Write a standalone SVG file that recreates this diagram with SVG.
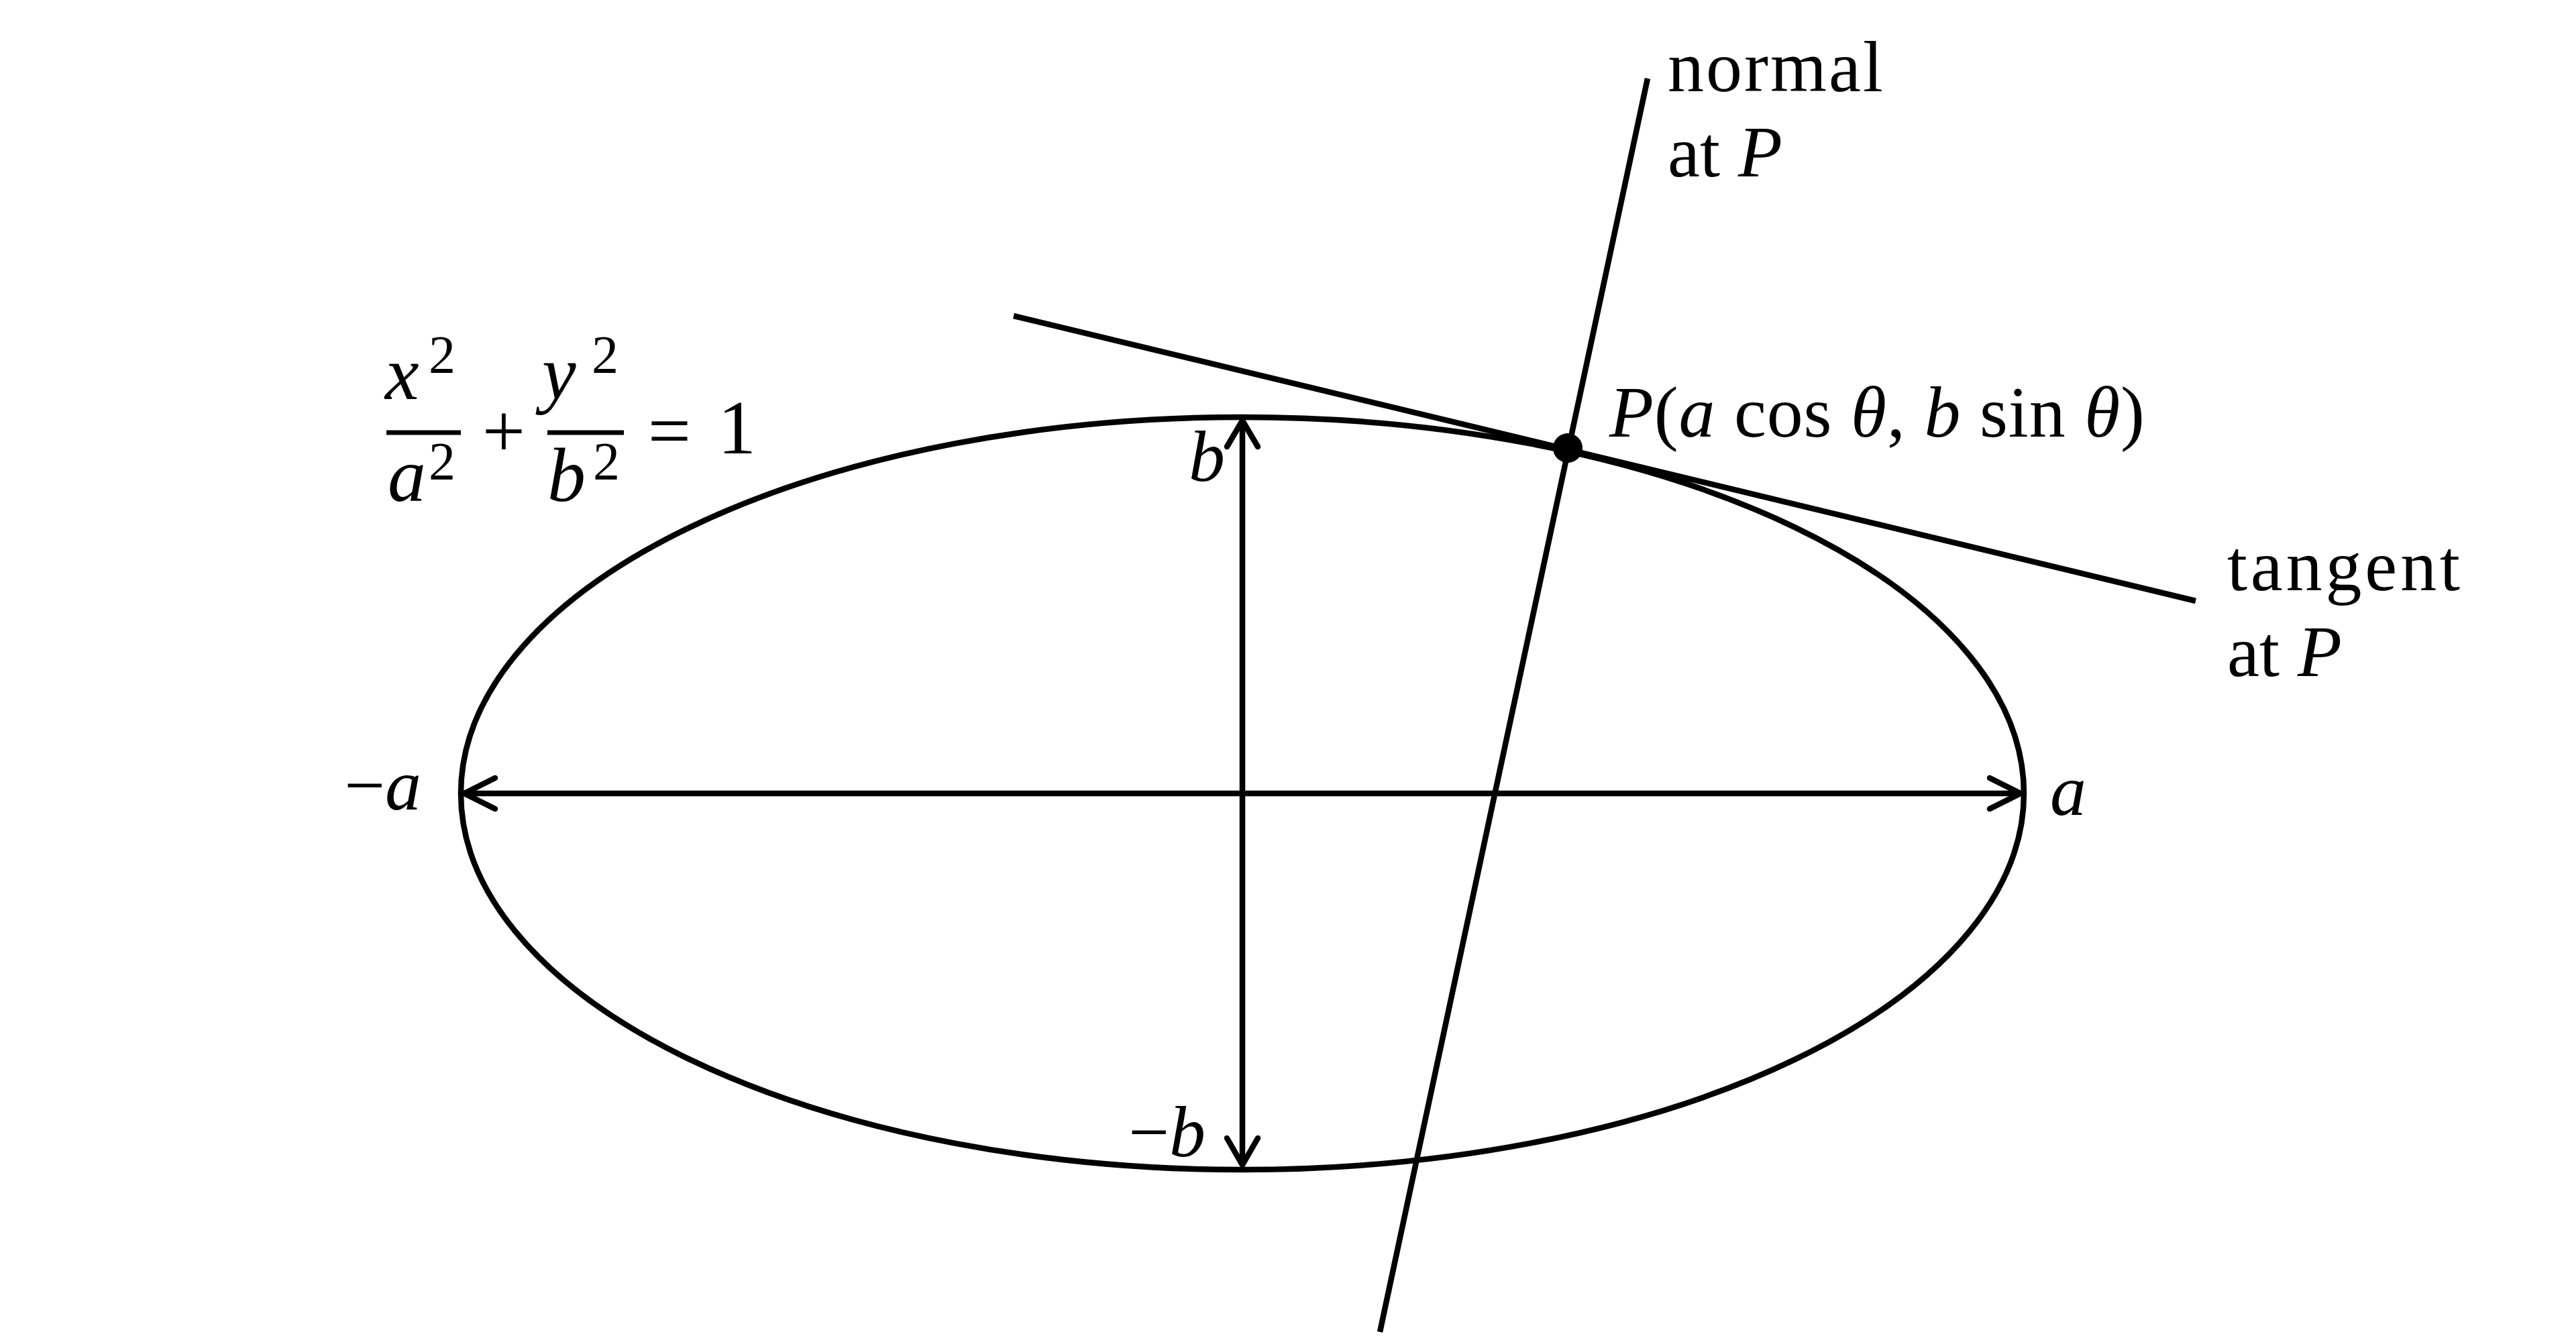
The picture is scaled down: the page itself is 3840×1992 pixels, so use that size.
<svg xmlns="http://www.w3.org/2000/svg" width="3840" height="1992" viewBox="0 0 3840 1992">
<style>
.ln{stroke:#000;stroke-width:8.5;fill:none;stroke-linecap:butt}
.ar{stroke:#000;stroke-width:8.5;fill:none;stroke-linecap:round;stroke-linejoin:round}
.t{font-family:"Liberation Serif","DejaVu Serif",serif;font-size:108px;fill:#000}
.i{font-style:italic}
.f{font-size:114px}
.s{font-size:80px}
</style>
<rect width="3840" height="1992" fill="#fff"/>
<g id="ellipse">
<ellipse cx="1852" cy="1183" rx="1165" ry="561" class="ln"/>
</g>
<g id="connectors">
<line id="major-axis" x1="692" y1="1183" x2="3012" y2="1183" class="ln"/>
<polyline points="738,1160 692,1183 738,1206" class="ar"/>
<polyline points="2966,1160 3012,1183 2966,1206" class="ar"/>
<line id="minor-axis" x1="1852" y1="627" x2="1852" y2="1737" class="ln"/>
<polyline points="1829,666 1852,627 1875,666" class="ar"/>
<polyline points="1829,1697 1852,1737 1875,1697" class="ar"/>
<line id="tangent" x1="1511" y1="471" x2="3273" y2="896" class="ln"/>
<line id="normal" x1="2456" y1="117" x2="2057" y2="1986" class="ln"/>
</g>
<g id="point-P">
<circle cx="2337" cy="668" r="22" fill="#000"/>
<text class="t" x="2399" y="651" textLength="798" lengthAdjust="spacing"><tspan class="i">P</tspan>(<tspan class="i">a</tspan> cos <tspan class="i">θ</tspan>, <tspan class="i">b</tspan> sin <tspan class="i">θ</tspan>)</text>
</g>
<g id="equation">
<text class="t f i" x="574" y="595">x</text>
<text class="t s" x="639" y="556">2</text>
<line x1="576" y1="645" x2="687" y2="645" stroke="#000" stroke-width="7"/>
<text class="t f i" x="578" y="747">a</text>
<text class="t s" x="639" y="715">2</text>
<text class="t f" x="751" y="681" text-anchor="middle">+</text>
<text class="t f i" x="808" y="595">y</text>
<text class="t s" x="882" y="556">2</text>
<line x1="816" y1="645" x2="930" y2="645" stroke="#000" stroke-width="7"/>
<text class="t f i" x="816" y="747">b</text>
<text class="t s" x="884" y="715">2</text>
<text class="t f" x="998" y="681" text-anchor="middle">=</text>
<text class="t f" x="1070" y="676">1</text>
</g>
<g id="label-normal">
<text class="t" x="2486" y="136" textLength="321" lengthAdjust="spacing">normal</text>
<text class="t" x="2486" y="263">at <tspan class="i">P</tspan></text>
</g>
<g id="label-tangent">
<text class="t" x="3320" y="880" textLength="347" lengthAdjust="spacing">tangent</text>
<text class="t" x="3320" y="1008">at <tspan class="i">P</tspan></text>
</g>
<g id="axis-labels">
<text class="t" x="513" y="1207">−<tspan class="i">a</tspan></text>
<text class="t i" x="3056" y="1215">a</text>
<text class="t i" x="1772" y="717">b</text>
<text class="t" x="1682" y="1724">−<tspan class="i">b</tspan></text>
</g>
</svg>
